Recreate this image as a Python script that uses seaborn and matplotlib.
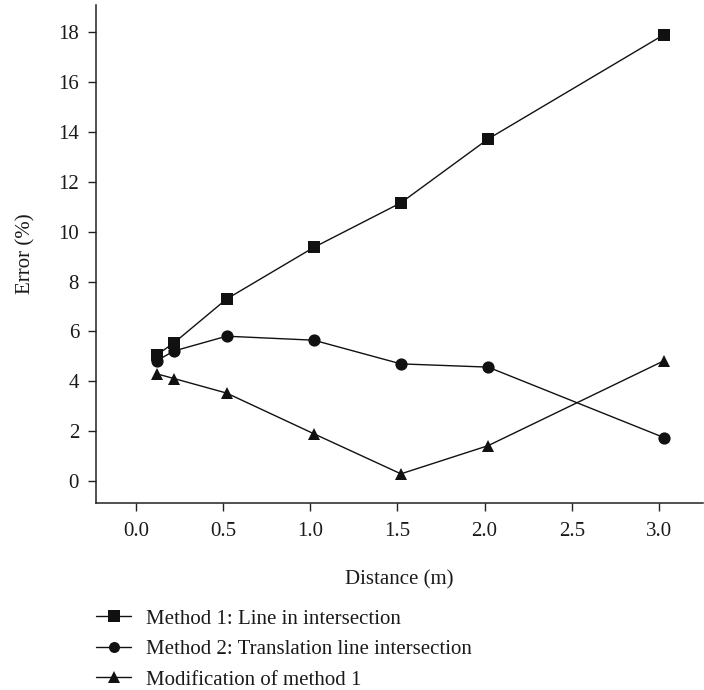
import matplotlib
matplotlib.use("Agg")
import matplotlib.pyplot as plt
import seaborn as sns
import pandas as pd

# Measurement distances (m)
distance = [0.12, 0.22, 0.52, 1.02, 1.52, 2.02, 3.03]

# Error (%) for each method
method1 = [5.06, 5.55, 7.30, 9.37, 11.16, 13.72, 17.91]
method2 = [4.83, 5.22, 5.81, 5.65, 4.70, 4.57, 1.74]
method3 = [4.30, 4.11, 3.53, 1.90, 0.29, 1.42, 4.83]

labels = [
    "Method 1: Line in intersection",
    "Method 2: Translation line intersection",
    "Modification of method 1",
]
markers = ["s", "o", "^"]

yticks = [0, 2, 4, 6, 8, 10, 12, 14, 16, 18]
xticks = [0.0, 0.5, 1.0, 1.5, 2.0, 2.5, 3.0]

sns.set_theme(style="ticks")
plt.rcParams["font.family"] = ["Liberation Serif", "DejaVu Serif"]

FS = 15

frames = []
for lab, vals in zip(labels, [method1, method2, method3]):
    frames.append(pd.DataFrame({"Distance": distance, "Error": vals, "Method": lab}))
df = pd.concat(frames, ignore_index=True)

fig = plt.figure(figsize=(7.04, 6.90), dpi=100)
ax = fig.add_axes([0.136, 0.271, 0.862, 0.722])

sns.lineplot(
    data=df, x="Distance", y="Error", hue="Method", style="Method",
    hue_order=labels, style_order=labels,
    palette=["#111111"] * 3, markers=markers, dashes=False,
    markersize=8.8, linewidth=1.0, markeredgewidth=0,
    ax=ax, legend=True,
)

ax.set_xlim(-0.23, 3.25)
ax.set_ylim(-0.88, 19.1)
ax.set_xticks(xticks)
ax.set_xticklabels([f"{t:.1f}" for t in xticks])
ax.set_yticks(yticks)
ax.set_yticklabels([str(t) for t in yticks])

for side in ["top", "right"]:
    ax.spines[side].set_visible(False)
for side in ["left", "bottom"]:
    ax.spines[side].set_linewidth(1.1)
    ax.spines[side].set_color("#222222")

ax.tick_params(axis="x", pad=8)
ax.tick_params(axis="y", pad=6)
ax.tick_params(axis="both", direction="out", length=6, width=1.0,
               color="#222222", labelsize=FS, labelcolor="#1a1a1a")

ax.set_xlabel("Distance (m)", fontsize=FS, color="#1a1a1a", labelpad=21)
ax.set_ylabel("Error (%)", fontsize=FS, color="#1a1a1a", labelpad=16)

handles, leg_labels = ax.get_legend_handles_labels()
ax.get_legend().remove()
leg = fig.legend(
    handles, leg_labels, loc="upper left",
    bbox_to_anchor=(0.125, 0.1292), frameon=False,
    fontsize=FS, markerscale=0.9, handlelength=1.65,
    handletextpad=0.72, labelspacing=0.52, borderaxespad=0,
)
for t in leg.get_texts():
    t.set_color("#1a1a1a")

fig.savefig("out.png", dpi=100)
